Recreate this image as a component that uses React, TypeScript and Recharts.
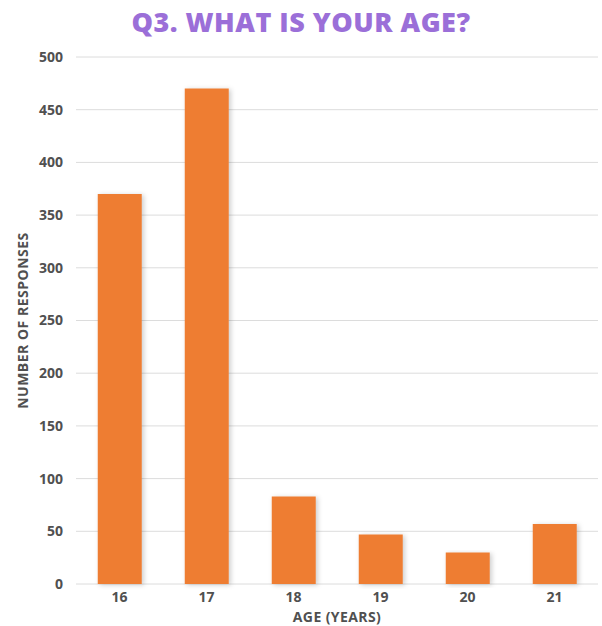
import { BarChart, Bar, XAxis, YAxis, CartesianGrid, Label } from "recharts"

const ages = ["16", "17", "18", "19", "20", "21"]
const responses = [370, 470, 83, 47, 30, 57]
const yTicks = [0, 50, 100, 150, 200, 250, 300, 350, 400, 450, 500]

const data = ages.map((age, i) => ({ age, responses: responses[i] }))

const FONT = "'Open Sans', 'DejaVu Sans', sans-serif"
const TICK = { fill: "#505050", fontSize: 14, fontWeight: 700, fontFamily: FONT }

export default function App() {
  return (
    <div style={{ position: "absolute", left: 0, top: 0, width: 602, height: 626, background: "#fff" }}>
      <div
        style={{
          position: "absolute",
          top: 5,
          left: 0,
          width: 602,
          textAlign: "center",
          color: "#9b6fd8",
          fontFamily: FONT,
          fontWeight: 800,
          fontSize: 27,
          letterSpacing: 0.5,
          lineHeight: "34px",
        }}
      >
        Q3. WHAT IS YOUR AGE?
      </div>
      <BarChart
        width={602}
        height={626}
        data={data}
        margin={{ top: 57, right: 4, bottom: 0, left: 0 }}
        barCategoryGap="25%"
      >
        <defs>
          <filter id="barShadow" x="-20%" y="-5%" width="150%" height="115%">
            <feDropShadow dx="2" dy="1" stdDeviation="2.5" floodColor="#000" floodOpacity="0.2" />
          </filter>
        </defs>
        <CartesianGrid vertical={false} stroke="#dcdcdc" strokeWidth={1} />
        <XAxis
          dataKey="age"
          axisLine={false}
          tickLine={false}
          tickSize={0}
          tickMargin={8}
          height={42}
          tick={TICK}
        >
          <Label
            value="AGE (YEARS)"
            position="insideBottom"
            offset={4}
            style={{ fill: "#505050", fontSize: 14, fontWeight: 700, fontFamily: FONT, letterSpacing: 0.4 }}
          />
        </XAxis>
        <YAxis
          domain={[0, 500]}
          ticks={yTicks}
          axisLine={false}
          tickLine={false}
          tickSize={0}
          tickMargin={13}
          width={76}
          tick={TICK}
        >
          <Label
            content={({ viewBox }: any) => {
              const cx = viewBox.x + 22
              const cy = viewBox.y + viewBox.height / 2
              return (
                <text
                  x={cx}
                  y={cy}
                  transform={`rotate(-90 ${cx} ${cy})`}
                  textAnchor="middle"
                  dominantBaseline="central"
                  fill="#505050"
                  fontSize={14}
                  fontWeight={700}
                  fontFamily={FONT}
                  letterSpacing={0.5}
                >
                  NUMBER OF RESPONSES
                </text>
              )
            }}
          />
        </YAxis>
        <Bar dataKey="responses" fill="#ee7d31" filter="url(#barShadow)" isAnimationActive={false} />
      </BarChart>
    </div>
  )
}
